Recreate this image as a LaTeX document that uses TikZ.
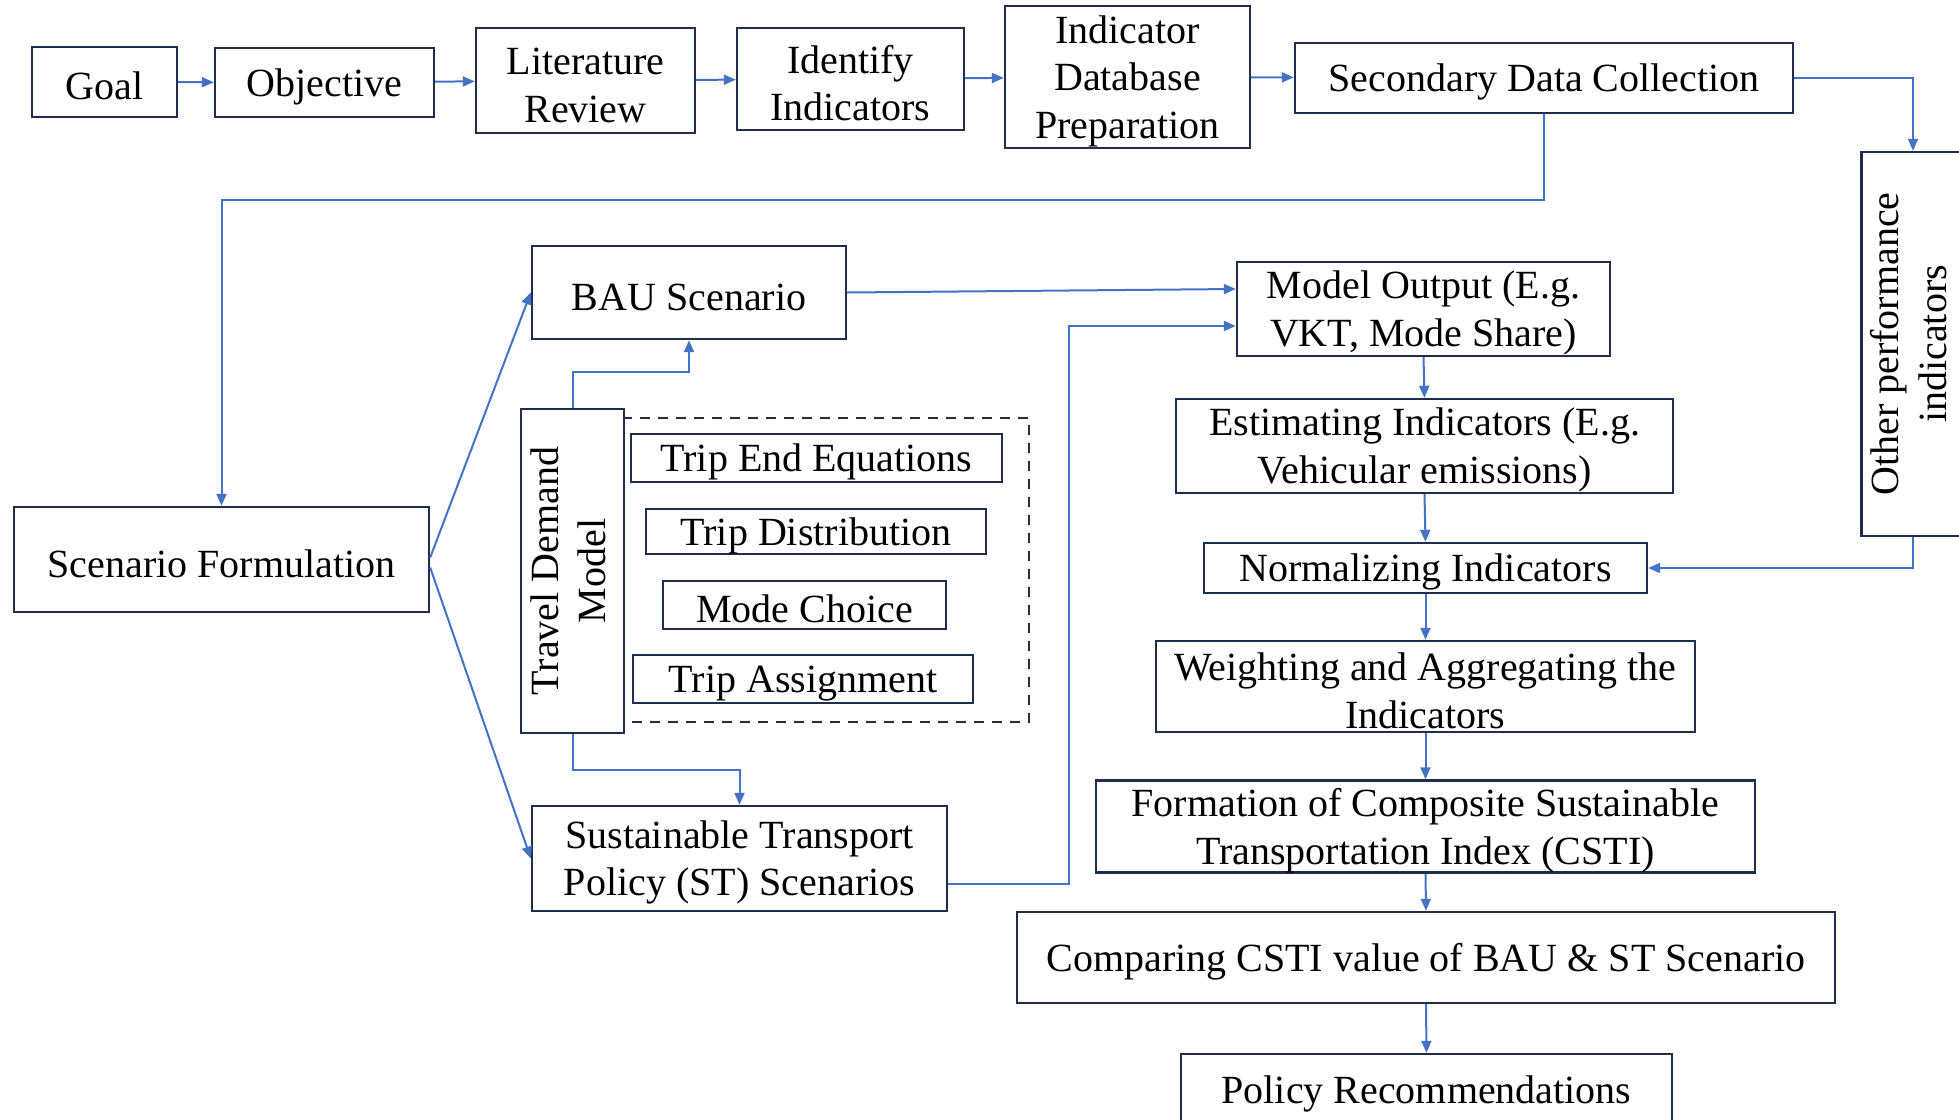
\documentclass[tikz,border=0pt]{standalone}
\usepackage{fontspec}
\setmainfont{Liberation Serif}
\usepackage{xcolor}
\usepackage{tikz}
\usetikzlibrary{arrows.meta}
\definecolor{flowblue}{HTML}{4472C4}
\definecolor{boxnavy}{HTML}{1F2D4E}
\newcommand{\topline}{\rule{0pt}{18pt}}

\begin{document}
\begin{tikzpicture}[x=0.5pt,y=-0.5pt,
  box/.style={draw=boxnavy, line width=1.2pt, align=center, inner xsep=2pt, inner ysep=0pt,
    font=\fontsize{20}{23.8}\selectfont, execute at begin node={\topline}},
  flow/.style={draw=flowblue, line width=1pt, -{Triangle[length=6pt,width=5pt]}}]
\fill[white] (0,0) rectangle (1959,1119);
\useasboundingbox (0,0) rectangle (1959,1119);
\clip (0,0) rectangle (1959,1119);

\node[box, minimum width=72.5pt, minimum height=35pt] (goal) at (104.5,82) {Goal};
\node[box, minimum width=109.5pt, minimum height=34.5pt] (obj) at (324.5,82.5) {Objective};
\node[box, minimum width=109.5pt, minimum height=52.5pt] (lit) at (585.5,80.5) {\topline Literature\\Review};
\node[box, minimum width=113.5pt, minimum height=51pt] (ident) at (850.5,79) {\topline Identify\\Indicators};
\node[box, minimum width=122.5pt, minimum height=71pt] (idb) at (1127.5,77) {\topline Indicator\\Database\\Preparation};
\node[box, minimum width=249pt, minimum height=35pt] (sdc) at (1544,78) {Secondary Data Collection};
\node[box, minimum width=51pt, minimum height=192pt] (other) at (1913,344)
  {\rotatebox{90}{\begin{tabular}{@{}c@{}}Other performance\\indicators\end{tabular}}};

\node[box, minimum width=207.5pt, minimum height=52.5pt] (scen) at (221.5,559.5) {Scenario Formulation};
\node[box, minimum width=157pt, minimum height=46.5pt] (bau) at (689,292.5) {BAU Scenario};
\draw[boxnavy, line width=1.2pt, dashed, dash pattern=on 5pt off 4pt] (622,418) -- (1029,418) -- (1029,722) -- (622,722);
\node[box, fill=white, minimum width=49.5pt, minimum height=162pt] (tdm) at (572.5,571)
  {\rotatebox{90}{\begin{tabular}{@{}c@{}}Travel Demand\\Model\end{tabular}}};
\node[box, minimum width=185.5pt, minimum height=24pt] (tee) at (816.5,458) {Trip End Equations};
\node[box, minimum width=170pt, minimum height=22.5pt] (tdist) at (816,531.5) {Trip Distribution};
\node[box, minimum width=141.5pt, minimum height=24pt] (mc) at (804.5,605) {Mode Choice};
\node[box, minimum width=170pt, minimum height=24pt] (ta) at (803,679) {Trip Assignment};
\node[box, minimum width=207.5pt, minimum height=52.5pt] (st) at (739.5,858.5) {\topline Sustainable Transport\\Policy (ST) Scenarios};

\node[box, minimum width=186.5pt, minimum height=47pt] (mo) at (1423.5,309) {\topline Model Output (E.g.\\VKT, Mode Share)};
\node[box, minimum width=248.5pt, minimum height=47pt] (est) at (1424.5,446) {\topline Estimating Indicators (E.g.\\Vehicular emissions)};
\node[box, minimum width=221.5pt, minimum height=25pt] (norm) at (1425.5,568) {Normalizing Indicators};
\node[box, minimum width=269.5pt, minimum height=45.5pt] (wt) at (1425.5,686.5) {\topline Weighting and Aggregating the\\Indicators};
\node[box, minimum width=329.5pt, minimum height=45.5pt] (form) at (1425.5,826.5) {\topline Formation of Composite Sustainable\\Transportation Index (CSTI)};
\node[box, minimum width=409pt, minimum height=45.5pt] (comp) at (1426,957.5) {Comparing CSTI value of BAU \& ST Scenario};
\node[box, minimum width=245.5pt, minimum height=36pt] (pol) at (1426.5,1090) {Policy Recommendations};

\draw[flow] (goal) -- (obj);
\draw[flow] (obj) -- (lit);
\draw[flow] (lit) -- (ident);
\draw[flow] (ident) -- (idb);
\draw[flow] (idb) -- (sdc);
\draw[flow] (sdc.east) -| (other.north);
\coordinate (turn) at (221.5,200);
\draw[flow] (sdc.south) |- (turn) -- (scen.north);
\draw[flow] ([yshift=1pt]scen.east) -- (bau.west);
\draw[flow] ([yshift=-4pt]scen.east) -- (st.west);
\draw[flow] (tdm.north) -- ++(0,-36) -| (bau.south);
\draw[flow] (tdm.south) -- ++(0,36) -| (st.north);
\draw[flow] (bau.east) -- ([yshift=10pt]mo.west);
\draw[flow] ([yshift=-12.75pt]st.east) -- ++(121,0) |- ([yshift=-8.5pt]mo.west);
\draw[flow] (mo.south) -- (est.north);
\draw[flow] (est.south) -- (norm.north);
\draw[flow] (norm.south) -- (wt.north);
\draw[flow] (wt.south) -- (form.north);
\draw[flow] (form.south) -- (comp.north);
\draw[flow] (comp.south) -- (pol.north);
\draw[flow] (other.south) |- (norm.east);

\end{tikzpicture}
\end{document}
